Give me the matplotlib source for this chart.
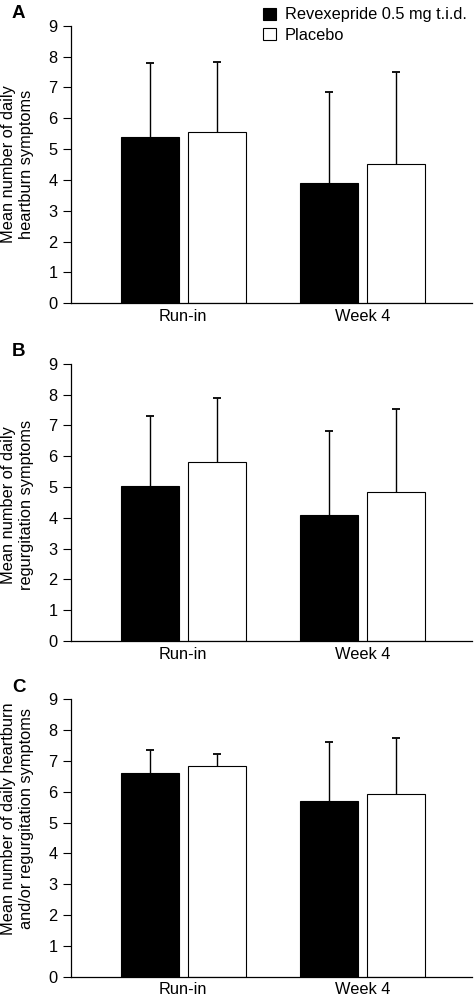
import matplotlib
matplotlib.use("Agg")
import matplotlib.pyplot as plt
from matplotlib.patches import Patch
import numpy as np

plt.rcParams['font.family'] = ['Liberation Sans', 'DejaVu Sans']

categories = ["Run-in", "Week 4"]
series_names = ["Revexepride 0.5 mg t.i.d.", "Placebo"]

# Panel A: heartburn
a_drug = [5.40, 3.91]
a_drug_sd = [2.40, 2.95]
a_plac = [5.56, 4.50]
a_plac_sd = [2.25, 2.99]

# Panel B: regurgitation
b_drug = [5.03, 4.08]
b_drug_sd = [2.28, 2.75]
b_plac = [5.81, 4.82]
b_plac_sd = [2.09, 2.72]

# Panel C: heartburn and/or regurgitation
c_drug = [6.62, 5.69]
c_drug_sd = [0.73, 1.93]
c_plac = [6.84, 5.93]
c_plac_sd = [0.38, 1.82]

panel_letters = ["A", "B", "C"]
ylabels = ["Mean number of daily\nheartburn symptoms",
           "Mean number of daily\nregurgitation symptoms",
           "Mean number of daily heartburn\nand/or regurgitation symptoms"]
yticks = list(range(0, 10))

panels = [(a_drug, a_drug_sd, a_plac, a_plac_sd),
          (b_drug, b_drug_sd, b_plac, b_plac_sd),
          (c_drug, c_drug_sd, c_plac, c_plac_sd)]

W, H = 475, 997
fig = plt.figure(figsize=(W / 100, H / 100), dpi=100)

ax_px = [(25.7, 303.3), (363.7, 641.0), (699.3, 976.7)]
label_y = [0.5, 0.49, 0.57]
left_px, right_px = 71, 472

x = np.arange(len(categories))
bw = 0.325
off = 0.187
FS = 11.8


def up_err(ax, xs, ys, errs):
    eb = ax.errorbar(xs, ys, yerr=[np.zeros(len(ys)), errs], fmt="none", ecolor="black",
                     elinewidth=1.0, capsize=3.2, capthick=1.3, zorder=1)
    caps = eb[1]
    if len(caps) == 2:
        caps[0].set_visible(False)


for i, ((d, dsd, p, psd), (top, bot)) in enumerate(zip(panels, ax_px)):
    ax = fig.add_axes([left_px / W, 1 - bot / H, (right_px - left_px) / W, (bot - top) / H])
    ax.bar(x - off, d, bw, color="black", edgecolor="black", linewidth=0.8, zorder=2)
    ax.bar(x + off, p, bw, color="white", edgecolor="black", linewidth=0.8, zorder=2)
    up_err(ax, x - off, d, dsd)
    up_err(ax, x + off, p, psd)
    ax.set_xlim(-0.627, 1.611)
    ax.set_ylim(0, 9)
    ax.set_yticks(yticks)
    ax.set_xticks(x)
    ax.set_xticklabels(categories, fontsize=FS)
    ax.tick_params(axis="x", length=0, pad=4)
    ax.tick_params(axis="y", length=5.8, width=0.8, pad=4, labelsize=FS)
    for s in ["top", "right"]:
        ax.spines[s].set_visible(False)
    for s in ["left", "bottom"]:
        ax.spines[s].set_linewidth(0.9)
    ax.set_ylabel(ylabels[i], fontsize=FS, linespacing=1.25)
    ax.yaxis.set_label_coords((34 - left_px) / (right_px - left_px), label_y[i])
    fig.text(12 / W, 1 - (top - 12) / H, panel_letters[i], fontsize=13.5, fontweight="bold",
             ha="left", va="center")
    if i == 0:
        handles = [Patch(facecolor="black", edgecolor="black", linewidth=0.8),
                   Patch(facecolor="white", edgecolor="black", linewidth=0.8)]
        fig.legend(handles, series_names, loc="upper left",
                   bbox_to_anchor=(252 / W, 1 + 4 / H), frameon=False, fontsize=FS,
                   handlelength=0.75, handleheight=0.75, handletextpad=0.55,
                   labelspacing=0.35, borderpad=0.2)

fig.savefig("out.png", dpi=100)
